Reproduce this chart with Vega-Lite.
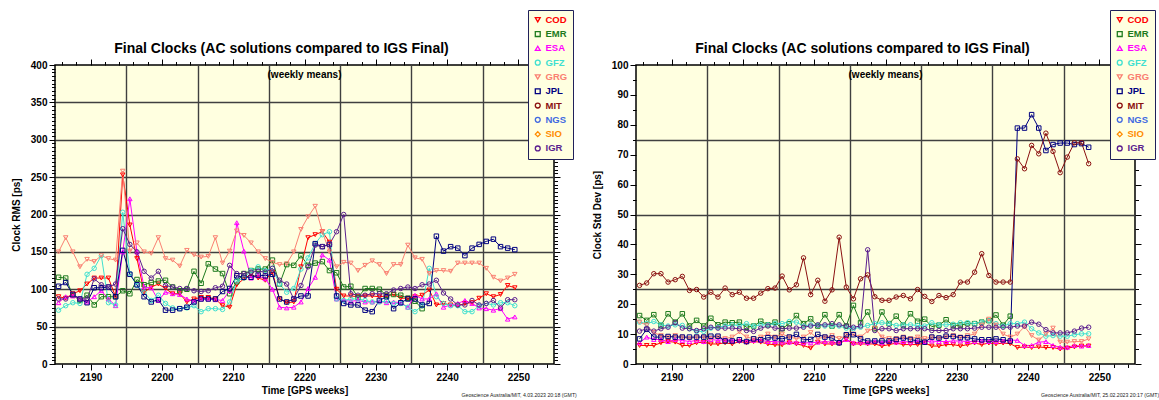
{
  "$schema": "https://vega.github.io/schema/vega-lite/v6.json",
  "background": "white",
  "padding": {"left": 10, "top": 8, "right": 2, "bottom": 2},
  "spacing": 13,
  "config": {
    "font": "Liberation Sans",
    "view": {"stroke": "black", "strokeWidth": 1.5, "fill": "#ffffe0"},
    "axis": {"labelFont": "Liberation Sans", "titleFont": "Liberation Sans"}
  },
  "resolve": {"scale": {"color": "independent", "shape": "independent"}},
  "datasets": {
    "rms": [
      {"w":2185.5,"COD":90,"EMR":116,"ESA":82,"GFZ":72,"GRG":150,"JPL":104,"IGR":87},
      {"w":2186.5,"COD":88,"EMR":115,"ESA":90,"GFZ":78,"GRG":169,"JPL":109,"IGR":87},
      {"w":2187.5,"COD":94,"EMR":92,"ESA":91,"GFZ":82,"GRG":150,"JPL":93,"IGR":93},
      {"w":2188.5,"COD":98,"EMR":85,"ESA":88,"GFZ":81,"GRG":130,"JPL":87,"IGR":87},
      {"w":2189.5,"COD":107,"EMR":92,"ESA":83,"GFZ":120,"GRG":140,"JPL":82,"IGR":87},
      {"w":2190.5,"COD":115,"EMR":79,"ESA":90,"GFZ":128,"GRG":137,"JPL":102,"IGR":114},
      {"w":2191.5,"COD":115,"EMR":90,"ESA":98,"GFZ":145,"GRG":145,"JPL":102,"IGR":106},
      {"w":2192.5,"COD":115,"EMR":90,"ESA":87,"GFZ":82,"GRG":141,"JPL":103,"IGR":103},
      {"w":2193.5,"COD":90,"EMR":90,"ESA":78,"GFZ":79,"GRG":139,"JPL":90,"IGR":107},
      {"w":2194.5,"COD":253,"EMR":98,"ESA":150,"GFZ":203,"GRG":258,"JPL":152,"IGR":181},
      {"w":2195.5,"COD":186,"EMR":94,"ESA":221,"GFZ":121,"GRG":151,"JPL":120,"IGR":160},
      {"w":2196.5,"COD":141,"EMR":113,"ESA":150,"GFZ":105,"GRG":162,"JPL":106,"IGR":150},
      {"w":2197.5,"COD":96,"EMR":106,"ESA":103,"GFZ":96,"GRG":150,"JPL":90,"IGR":124},
      {"w":2198.5,"COD":103,"EMR":109,"ESA":102,"GFZ":85,"GRG":148,"JPL":83,"IGR":115},
      {"w":2199.5,"COD":107,"EMR":111,"ESA":85,"GFZ":92,"GRG":169,"JPL":86,"IGR":124},
      {"w":2200.5,"COD":101,"EMR":112,"ESA":96,"GFZ":81,"GRG":141,"JPL":72,"IGR":105},
      {"w":2201.5,"COD":94,"EMR":103,"ESA":94,"GFZ":75,"GRG":139,"JPL":72,"IGR":103},
      {"w":2202.5,"COD":94,"EMR":98,"ESA":93,"GFZ":74,"GRG":131,"JPL":74,"IGR":101},
      {"w":2203.5,"COD":83,"EMR":100,"ESA":87,"GFZ":75,"GRG":152,"JPL":76,"IGR":101},
      {"w":2204.5,"COD":87,"EMR":124,"ESA":84,"GFZ":78,"GRG":146,"JPL":83,"IGR":98},
      {"w":2205.5,"COD":89,"EMR":108,"ESA":87,"GFZ":70,"GRG":143,"JPL":87,"IGR":97},
      {"w":2206.5,"COD":89,"EMR":134,"ESA":87,"GFZ":74,"GRG":144,"JPL":87,"IGR":98},
      {"w":2207.5,"COD":87,"EMR":127,"ESA":86,"GFZ":74,"GRG":169,"JPL":87,"IGR":102},
      {"w":2208.5,"COD":78,"EMR":121,"ESA":85,"GFZ":73,"GRG":135,"JPL":97,"IGR":104},
      {"w":2209.5,"COD":76,"EMR":94,"ESA":98,"GFZ":83,"GRG":151,"JPL":101,"IGR":132},
      {"w":2210.5,"COD":106,"EMR":110,"ESA":189,"GFZ":111,"GRG":178,"JPL":118,"IGR":121},
      {"w":2211.5,"COD":114,"EMR":121,"ESA":151,"GFZ":115,"GRG":172,"JPL":116,"IGR":121},
      {"w":2212.5,"COD":120,"EMR":125,"ESA":115,"GFZ":125,"GRG":162,"JPL":116,"IGR":123},
      {"w":2213.5,"COD":115,"EMR":127,"ESA":118,"GFZ":130,"GRG":150,"JPL":119,"IGR":124},
      {"w":2214.5,"COD":112,"EMR":127,"ESA":114,"GFZ":125,"GRG":141,"JPL":118,"IGR":123},
      {"w":2215.5,"COD":123,"EMR":139,"ESA":100,"GFZ":128,"GRG":136,"JPL":120,"IGR":128},
      {"w":2216.5,"COD":87,"EMR":107,"ESA":76,"GFZ":107,"GRG":133,"JPL":87,"IGR":112},
      {"w":2217.5,"COD":82,"EMR":133,"ESA":75,"GFZ":96,"GRG":134,"JPL":83,"IGR":107},
      {"w":2218.5,"COD":83,"EMR":132,"ESA":76,"GFZ":101,"GRG":150,"JPL":87,"IGR":87},
      {"w":2219.5,"COD":130,"EMR":145,"ESA":83,"GFZ":127,"GRG":180,"JPL":91,"IGR":105},
      {"w":2220.5,"COD":169,"EMR":132,"ESA":101,"GFZ":142,"GRG":197,"JPL":91,"IGR":130},
      {"w":2221.5,"COD":173,"EMR":135,"ESA":116,"GFZ":161,"GRG":211,"JPL":161,"IGR":159},
      {"w":2222.5,"COD":177,"EMR":137,"ESA":146,"GFZ":173,"GRG":177,"JPL":157,"IGR":157},
      {"w":2223.5,"COD":163,"EMR":125,"ESA":139,"GFZ":177,"GRG":150,"JPL":160,"IGR":160},
      {"w":2224.5,"COD":100,"EMR":122,"ESA":87,"GFZ":87,"GRG":130,"JPL":91,"IGR":177},
      {"w":2225.5,"COD":91,"EMR":103,"ESA":85,"GFZ":85,"GRG":136,"JPL":81,"IGR":200},
      {"w":2226.5,"COD":91,"EMR":104,"ESA":84,"GFZ":87,"GRG":135,"JPL":79,"IGR":94},
      {"w":2227.5,"COD":90,"EMR":89,"ESA":85,"GFZ":87,"GRG":125,"JPL":79,"IGR":92},
      {"w":2228.5,"COD":91,"EMR":101,"ESA":83,"GFZ":85,"GRG":132,"JPL":72,"IGR":92},
      {"w":2229.5,"COD":91,"EMR":101,"ESA":83,"GFZ":83,"GRG":138,"JPL":70,"IGR":94},
      {"w":2230.5,"COD":90,"EMR":100,"ESA":84,"GFZ":83,"GRG":133,"JPL":85,"IGR":94},
      {"w":2231.5,"COD":91,"EMR":92,"ESA":82,"GFZ":84,"GRG":121,"JPL":90,"IGR":94},
      {"w":2232.5,"COD":93,"EMR":93,"ESA":83,"GFZ":81,"GRG":133,"JPL":74,"IGR":99},
      {"w":2233.5,"COD":88,"EMR":92,"ESA":82,"GFZ":81,"GRG":133,"JPL":82,"IGR":101},
      {"w":2234.5,"COD":88,"EMR":88,"ESA":76,"GFZ":76,"GRG":159,"JPL":87,"IGR":103},
      {"w":2235.5,"COD":90,"EMR":84,"ESA":92,"GFZ":70,"GRG":142,"JPL":87,"IGR":101},
      {"w":2236.5,"COD":92,"EMR":74,"ESA":87,"GFZ":78,"GRG":140,"JPL":79,"IGR":106},
      {"w":2237.5,"COD":99,"ESA":87,"GFZ":128,"GRG":121,"JPL":81,"IGR":107},
      {"w":2238.5,"COD":79,"ESA":94,"GFZ":90,"GRG":125,"JPL":171,"IGR":112},
      {"w":2239.5,"COD":81,"ESA":76,"GFZ":81,"GRG":125,"JPL":151,"IGR":95},
      {"w":2240.5,"COD":79,"ESA":79,"GFZ":78,"GRG":124,"JPL":157,"IGR":87},
      {"w":2241.5,"COD":78,"ESA":81,"GFZ":78,"GRG":135,"JPL":155,"IGR":79},
      {"w":2242.5,"COD":81,"ESA":85,"GFZ":70,"GRG":135,"JPL":145,"IGR":79},
      {"w":2243.5,"COD":82,"ESA":81,"GFZ":70,"GRG":135,"JPL":155,"IGR":85},
      {"w":2244.5,"COD":88,"ESA":75,"GFZ":78,"GRG":135,"JPL":160,"IGR":79},
      {"w":2245.5,"COD":94,"ESA":74,"GFZ":81,"GRG":128,"JPL":164,"IGR":81},
      {"w":2246.5,"COD":90,"ESA":72,"GFZ":79,"GRG":116,"JPL":167,"IGR":85},
      {"w":2247.5,"COD":93,"ESA":74,"GFZ":82,"GRG":111,"JPL":157,"IGR":75},
      {"w":2248.5,"COD":105,"ESA":60,"GFZ":82,"GRG":115,"JPL":155,"IGR":86},
      {"w":2249.5,"COD":102,"ESA":63,"GFZ":78,"GRG":120,"JPL":153,"IGR":86}
    ],
    "std": [
      {"w":2185.5,"COD":6.2,"EMR":16.2,"ESA":7.1,"GFZ":14.0,"GRG":14,"JPL":8.4,"MIT":26.3,"IGR":11.0},
      {"w":2186.5,"COD":6.2,"EMR":14.6,"ESA":9.0,"GFZ":13.5,"GRG":13,"JPL":11.6,"MIT":27.1,"IGR":11.8},
      {"w":2187.5,"COD":6.2,"EMR":16.5,"ESA":8.2,"GFZ":14.2,"GRG":10.5,"JPL":9.0,"MIT":30.2,"IGR":11.0},
      {"w":2188.5,"COD":7.1,"EMR":12.9,"ESA":8.2,"GFZ":13.1,"GRG":9.5,"JPL":9.0,"MIT":30.2,"IGR":11.8},
      {"w":2189.5,"COD":7.5,"EMR":16.8,"ESA":7.5,"GFZ":12.7,"GRG":9,"JPL":9.2,"MIT":27.4,"IGR":12.3},
      {"w":2190.5,"COD":7.3,"EMR":14.0,"ESA":8.2,"GFZ":13.1,"GRG":9.5,"JPL":9.0,"MIT":28.2,"IGR":13.8},
      {"w":2191.5,"COD":6.2,"EMR":16.8,"ESA":7.9,"GFZ":12.9,"GRG":9,"JPL":9.0,"MIT":29.3,"IGR":12.0},
      {"w":2192.5,"COD":6.2,"EMR":12.7,"ESA":7.5,"GFZ":11.8,"GRG":8.5,"JPL":9.0,"MIT":24.6,"IGR":11.8},
      {"w":2193.5,"COD":7.1,"EMR":14.6,"ESA":7.9,"GFZ":10.9,"GRG":9,"JPL":9.0,"MIT":24.9,"IGR":11.2},
      {"w":2194.5,"COD":7.3,"EMR":12.7,"ESA":7.5,"GFZ":10.9,"GRG":9,"JPL":9.0,"MIT":22.4,"IGR":11.8},
      {"w":2195.5,"COD":6.7,"EMR":15.3,"ESA":8.2,"GFZ":12.0,"GRG":8.5,"JPL":9.3,"MIT":24.0,"IGR":12.3},
      {"w":2196.5,"COD":6.7,"EMR":13.1,"ESA":7.9,"GFZ":12.3,"GRG":9,"JPL":9.3,"MIT":22.4,"IGR":12.0},
      {"w":2197.5,"COD":7.1,"EMR":14.0,"ESA":8.2,"GFZ":12.7,"GRG":8.5,"JPL":7.7,"MIT":25.4,"IGR":12.0},
      {"w":2198.5,"COD":6.7,"EMR":13.8,"ESA":7.9,"GFZ":13.1,"GRG":9,"JPL":7.7,"MIT":23.2,"IGR":12.0},
      {"w":2199.5,"COD":7.5,"EMR":14.0,"ESA":7.9,"GFZ":12.9,"GRG":10.7,"JPL":8.1,"MIT":24.0,"IGR":11.8},
      {"w":2200.5,"COD":7.1,"EMR":12.3,"ESA":7.5,"GFZ":13.5,"GRG":9,"JPL":7.5,"MIT":22.0,"IGR":11.2},
      {"w":2201.5,"COD":7.5,"EMR":12.7,"ESA":7.9,"GFZ":12.7,"GRG":8.5,"JPL":8.4,"MIT":22.0,"IGR":10.9},
      {"w":2202.5,"COD":7.3,"EMR":14.3,"ESA":7.9,"GFZ":13.1,"GRG":9,"JPL":8.1,"MIT":23.7,"IGR":12.0},
      {"w":2203.5,"COD":6.7,"EMR":13.1,"ESA":7.5,"GFZ":13.1,"GRG":10,"JPL":8.8,"MIT":25.2,"IGR":12.7},
      {"w":2204.5,"COD":6.4,"EMR":14.0,"ESA":7.5,"GFZ":13.5,"GRG":9,"JPL":8.7,"MIT":25.4,"IGR":12.0},
      {"w":2205.5,"COD":6.4,"EMR":11.8,"ESA":7.3,"GFZ":13.5,"GRG":10,"JPL":8.4,"MIT":29.4,"IGR":11.8},
      {"w":2206.5,"COD":7.1,"EMR":13.5,"ESA":7.3,"GFZ":14.2,"GRG":9,"JPL":9.0,"MIT":24.8,"IGR":12.0},
      {"w":2207.5,"COD":6.7,"EMR":16.2,"ESA":7.3,"GFZ":14.0,"GRG":8.5,"JPL":9.9,"MIT":26.5,"IGR":12.0},
      {"w":2208.5,"COD":6.2,"EMR":13.5,"ESA":7.1,"GFZ":12.7,"GRG":9,"JPL":8.1,"MIT":35.5,"IGR":12.3},
      {"w":2209.5,"COD":5.3,"EMR":15.1,"ESA":7.1,"GFZ":13.1,"GRG":10.5,"JPL":8.2,"MIT":23.2,"IGR":12.7},
      {"w":2210.5,"COD":7.3,"EMR":12.7,"ESA":7.3,"GFZ":12.9,"GRG":8.5,"JPL":9.9,"MIT":28.0,"IGR":13.1},
      {"w":2211.5,"COD":6.7,"EMR":16.5,"ESA":7.5,"GFZ":12.7,"GRG":9,"JPL":9.0,"MIT":21.0,"IGR":13.1},
      {"w":2212.5,"COD":6.7,"EMR":12.7,"ESA":7.3,"GFZ":12.7,"GRG":9.5,"JPL":8.7,"MIT":24.8,"IGR":13.5},
      {"w":2213.5,"COD":6.7,"EMR":16.5,"ESA":7.1,"GFZ":12.7,"GRG":8.5,"JPL":7.1,"MIT":42.4,"IGR":13.1},
      {"w":2214.5,"COD":8.2,"EMR":12.7,"ESA":8.2,"GFZ":12.0,"GRG":9.5,"JPL":9.8,"MIT":25.7,"IGR":12.7},
      {"w":2215.5,"COD":6.7,"EMR":19.6,"ESA":7.1,"GFZ":11.8,"GRG":10,"JPL":9.8,"MIT":21.8,"IGR":12.3},
      {"w":2216.5,"COD":6.7,"EMR":13.8,"ESA":7.3,"GFZ":12.3,"GRG":9,"JPL":8.4,"MIT":28.5,"IGR":12.7},
      {"w":2217.5,"COD":6.7,"EMR":17.4,"ESA":7.1,"GFZ":12.9,"GRG":11,"JPL":7.7,"MIT":29.8,"IGR":38.2},
      {"w":2218.5,"COD":6.7,"EMR":11.8,"ESA":7.5,"GFZ":13.5,"GRG":12,"JPL":7.7,"MIT":22.5,"IGR":11.2},
      {"w":2219.5,"COD":6.0,"EMR":17.4,"ESA":7.1,"GFZ":13.8,"GRG":9,"JPL":7.7,"MIT":21.3,"IGR":11.8},
      {"w":2220.5,"COD":6.5,"EMR":13.5,"ESA":7.5,"GFZ":13.5,"GRG":8.5,"JPL":7.7,"MIT":21.3,"IGR":11.8},
      {"w":2221.5,"COD":7.0,"EMR":16.0,"ESA":7.3,"GFZ":12.9,"GRG":8.5,"JPL":8.2,"MIT":22.4,"IGR":11.2},
      {"w":2222.5,"COD":6.5,"EMR":13.0,"ESA":7.5,"GFZ":13.1,"GRG":9,"JPL":8.7,"MIT":22.9,"IGR":11.8},
      {"w":2223.5,"COD":6.5,"EMR":16.8,"ESA":7.3,"GFZ":13.1,"GRG":8.5,"JPL":8.2,"MIT":21.8,"IGR":11.8},
      {"w":2224.5,"COD":6.5,"EMR":14.3,"ESA":7.5,"GFZ":12.9,"GRG":9,"JPL":7.7,"MIT":24.9,"IGR":11.8},
      {"w":2225.5,"COD":7.0,"EMR":15.0,"ESA":7.5,"GFZ":12.7,"GRG":8.5,"JPL":7.3,"MIT":22.6,"IGR":11.8},
      {"w":2226.5,"COD":6.0,"EMR":12.5,"ESA":7.7,"GFZ":13.8,"GRG":9,"JPL":9.0,"MIT":20.9,"IGR":11.2},
      {"w":2227.5,"COD":6.0,"EMR":13.0,"ESA":7.5,"GFZ":13.1,"GRG":8.5,"JPL":8.7,"MIT":22.9,"IGR":11.2},
      {"w":2228.5,"COD":6.5,"EMR":14.8,"ESA":7.5,"GFZ":13.1,"GRG":9,"JPL":9.3,"MIT":22.2,"IGR":11.2},
      {"w":2229.5,"COD":6.5,"EMR":12.9,"ESA":7.7,"GFZ":13.3,"GRG":9.5,"JPL":9.2,"MIT":23.2,"IGR":11.8},
      {"w":2230.5,"COD":6.0,"EMR":13.0,"ESA":7.7,"GFZ":13.8,"GRG":9,"JPL":8.8,"MIT":27.4,"IGR":11.8},
      {"w":2231.5,"COD":6.5,"EMR":13.5,"ESA":7.5,"GFZ":13.8,"GRG":9.5,"JPL":8.8,"MIT":27.4,"IGR":11.8},
      {"w":2232.5,"COD":7.0,"EMR":13.5,"ESA":7.5,"GFZ":13.5,"GRG":10,"JPL":8.4,"MIT":30.7,"IGR":12.0},
      {"w":2233.5,"COD":6.5,"EMR":14.0,"ESA":7.7,"GFZ":14.0,"GRG":13,"JPL":8.1,"MIT":36.9,"IGR":12.3},
      {"w":2234.5,"COD":7.0,"EMR":14.5,"ESA":7.5,"GFZ":14.5,"GRG":15,"JPL":8.1,"MIT":29.6,"IGR":12.3},
      {"w":2235.5,"COD":6.7,"EMR":16.4,"ESA":7.5,"GFZ":13.5,"GRG":13,"JPL":8.4,"MIT":27.4,"IGR":12.3},
      {"w":2236.5,"COD":7.0,"EMR":13.0,"ESA":7.7,"GFZ":12.7,"GRG":10,"JPL":8.1,"MIT":27.4,"IGR":12.3},
      {"w":2237.5,"COD":6.8,"EMR":16.0,"ESA":8.0,"GFZ":13.5,"GRG":9,"JPL":7.7,"MIT":27.4,"IGR":12.3},
      {"w":2238.5,"COD":5.5,"ESA":7.9,"GFZ":13.5,"GRG":10,"JPL":78.9,"MIT":68.6,"IGR":12.7},
      {"w":2239.5,"COD":5.7,"ESA":6.2,"GFZ":14.0,"GRG":12.5,"JPL":78.9,"MIT":65.3,"IGR":12.7},
      {"w":2240.5,"COD":5.5,"ESA":6.2,"GFZ":11.8,"GRG":9.5,"JPL":83.4,"MIT":73.1,"IGR":14.0},
      {"w":2241.5,"COD":5.7,"ESA":7.3,"GFZ":10.4,"GRG":8,"JPL":78.9,"MIT":70.3,"IGR":13.3},
      {"w":2242.5,"COD":5.5,"ESA":7.5,"GFZ":9.3,"GRG":10,"JPL":71.4,"MIT":77.2,"IGR":11.5},
      {"w":2243.5,"COD":5.5,"ESA":6.2,"GFZ":9.5,"GRG":12,"JPL":73.4,"MIT":71.1,"IGR":10.4},
      {"w":2244.5,"COD":5.0,"ESA":5.6,"GFZ":9.3,"GRG":7.3,"JPL":73.9,"MIT":64.0,"IGR":10.4},
      {"w":2245.5,"COD":5.3,"ESA":5.6,"GFZ":9.3,"GRG":7.3,"JPL":73.9,"MIT":69.2,"IGR":10.4},
      {"w":2246.5,"COD":5.7,"ESA":6.2,"GFZ":9.8,"GRG":7.5,"JPL":73.4,"MIT":74.0,"IGR":11.0},
      {"w":2247.5,"COD":6.0,"ESA":6.0,"GFZ":10.1,"GRG":7.5,"JPL":73.7,"MIT":74.0,"IGR":12.0},
      {"w":2248.5,"COD":6.0,"ESA":6.2,"GFZ":10.1,"GRG":8.4,"JPL":72.5,"MIT":67.0,"IGR":12.3}
    ]
  },
  "hconcat": [
    {
      "width": 499,
      "height": 299,
      "title": {"text": "Final Clocks (AC solutions compared to IGS Final)", "fontSize": 14, "fontWeight": "bold", "color": "black", "anchor": "middle", "dx": -23, "offset": -60, "baseline": "bottom"},
      "data": {"name": "rms"},
      "transform": [
        {"fold": ["COD","EMR","ESA","GFZ","GRG","JPL","MIT","NGS","SIO","IGR"], "as": ["ac","v"]},
        {"filter": "isValid(datum.v)"}
      ],
      "resolve": {"axis": {"x": "independent", "y": "independent"}},
      "layer": [
        {
          "mark": {"type": "line", "strokeWidth": 1},
          "encoding": {
            "x": {"field": "w", "type": "quantitative", "scale": {"domain": [2185, 2255], "nice": false, "zero": false},
              "axis": {"orient": "bottom", "values": [2186,2188,2190,2192,2194,2196,2198,2200,2202,2204,2206,2208,2210,2212,2214,2216,2218,2220,2222,2224,2226,2228,2230,2232,2234,2236,2238,2240,2242,2244,2246,2248,2250,2252,2254], "format": "d", "labelExpr": "datum.value % 10 === 0 ? datum.label : ''", "tickSize": {"condition": {"test": "datum.value % 10 === 0", "value": 6}, "value": 3.5}, "tickColor": "black", "tickWidth": 1, "labelFontSize": 10, "labelFontWeight": "bold", "labelColor": "black", "labelPadding": 2, "labelFlush": false, "labelOverlap": false, "domain": false, "grid": false, "title": "Time [GPS weeks]", "titleFontSize": 10, "titleFontWeight": "bold", "titleColor": "black", "titlePadding": 3}},
            "y": {"field": "v", "type": "quantitative", "scale": {"domain": [0, 400], "nice": false, "zero": false},
              "axis": {"orient": "left", "values": [0,5,10,15,20,25,30,35,40,45,50,55,60,65,70,75,80,85,90,95,100,105,110,115,120,125,130,135,140,145,150,155,160,165,170,175,180,185,190,195,200,205,210,215,220,225,230,235,240,245,250,255,260,265,270,275,280,285,290,295,300,305,310,315,320,325,330,335,340,345,350,355,360,365,370,375,380,385,390,395,400], "format": "d", "labelExpr": "datum.value % 50 === 0 ? datum.label : ''", "tickSize": {"condition": {"test": "datum.value % 50 === 0", "value": 6}, "value": 3.5}, "tickColor": "black", "tickWidth": 1, "labelFontSize": 10, "labelFontWeight": "bold", "labelColor": "black", "labelPadding": 2, "labelFlush": false, "labelOverlap": false, "domain": false, "grid": false, "title": "Clock RMS [ps]", "titleFontSize": 10, "titleFontWeight": "bold", "titleColor": "black", "titlePadding": 9}},
            "stroke": {"field": "ac", "type": "nominal", "scale": {"domain": ["COD","EMR","ESA","GFZ","GRG","JPL","MIT","NGS","SIO","IGR"], "range": ["#ff0000","#1e7b1e","#ff00ff","#40e0d0","#fa8072","#000080","#8b1010","#4169e1","#ff8c00","#5b1f8f"]}, "legend": null}
          }
        },
        {
          "mark": {"type": "point", "filled": false, "size": 20, "strokeWidth": 1, "opacity": 1},
          "encoding": {
            "x": {"field": "w", "type": "quantitative", "scale": {"domain": [2185, 2255], "nice": false, "zero": false},
              "axis": {"orient": "bottom", "values": [2195,2205,2215,2225,2235,2245], "grid": true, "gridColor": "#404040", "gridWidth": 1.4, "gridOpacity": 1, "ticks": false, "labels": false, "domain": false, "title": null, "zindex": 0}},
            "y": {"field": "v", "type": "quantitative", "scale": {"domain": [0, 400], "nice": false, "zero": false},
              "axis": {"orient": "left", "values": [50,100,150,200,250,300,350], "grid": true, "gridColor": "#404040", "gridWidth": 1.4, "gridOpacity": 1, "ticks": false, "labels": false, "domain": false, "title": null, "zindex": 0}},
            "color": {"field": "ac", "type": "nominal", "scale": {"domain": ["COD","EMR","ESA","GFZ","GRG","JPL","MIT","NGS","SIO","IGR"], "range": ["#ff0000","#1e7b1e","#ff00ff","#40e0d0","#fa8072","#000080","#8b1010","#4169e1","#ff8c00","#5b1f8f"]},
              "legend": {"orient": "none", "legendX": 473, "legendY": -55, "title": null, "padding": 5, "rowPadding": 3.3, "symbolSize": 24, "symbolStrokeWidth": 1.3, "labelFontSize": 9.5, "labelFontWeight": "bold", "labelFont": "Liberation Sans", "labelOffset": 3, "fillColor": "#ffffe0", "strokeColor": "#20205a",
                "labelColor": {"expr": "datum.value === 'COD' ? '#ff0000' : datum.value === 'EMR' ? '#1e7b1e' : datum.value === 'ESA' ? '#ff00ff' : datum.value === 'GFZ' ? '#40e0d0' : datum.value === 'GRG' ? '#fa8072' : datum.value === 'JPL' ? '#000080' : datum.value === 'MIT' ? '#8b1010' : datum.value === 'NGS' ? '#4169e1' : datum.value === 'SIO' ? '#ff8c00' : '#5b1f8f'"}}},
            "shape": {"field": "ac", "type": "nominal", "scale": {"domain": ["COD","EMR","ESA","GFZ","GRG","JPL","MIT","NGS","SIO","IGR"], "range": ["triangle-down","square","triangle-up","circle","triangle-down","square","circle","circle","diamond","circle"]},
              "legend": {"orient": "none", "legendX": 473, "legendY": -55, "title": null, "padding": 5, "rowPadding": 3.3, "symbolSize": 24, "symbolStrokeWidth": 1.3, "labelFontSize": 9.5, "labelFontWeight": "bold", "labelFont": "Liberation Sans", "labelOffset": 3, "fillColor": "#ffffe0", "strokeColor": "#20205a",
                "labelColor": {"expr": "datum.value === 'COD' ? '#ff0000' : datum.value === 'EMR' ? '#1e7b1e' : datum.value === 'ESA' ? '#ff00ff' : datum.value === 'GFZ' ? '#40e0d0' : datum.value === 'GRG' ? '#fa8072' : datum.value === 'JPL' ? '#000080' : datum.value === 'MIT' ? '#8b1010' : datum.value === 'NGS' ? '#4169e1' : datum.value === 'SIO' ? '#ff8c00' : '#5b1f8f'"}}}
          }
        },
        {
          "data": {"values": [{"note": "(weekly means)"}]},
          "mark": {"type": "text", "fontSize": 10, "fontWeight": "bold", "color": "black", "baseline": "middle", "align": "center"},
          "encoding": {
            "x": {"datum": 2220, "type": "quantitative", "scale": {"domain": [2185, 2255], "nice": false, "zero": false},
              "axis": {"orient": "top", "values": [2186,2188,2190,2192,2194,2196,2198,2200,2202,2204,2206,2208,2210,2212,2214,2216,2218,2220,2222,2224,2226,2228,2230,2232,2234,2236,2238,2240,2242,2244,2246,2248,2250,2252,2254], "tickSize": {"condition": {"test": "datum.value % 10 === 0", "value": 6}, "value": 3.5}, "tickColor": "black", "tickWidth": 1, "labels": false, "domain": false, "grid": false, "title": null}},
            "y": {"datum": 386.7, "type": "quantitative", "scale": {"domain": [0, 400], "nice": false, "zero": false},
              "axis": {"orient": "right", "values": [0,5,10,15,20,25,30,35,40,45,50,55,60,65,70,75,80,85,90,95,100,105,110,115,120,125,130,135,140,145,150,155,160,165,170,175,180,185,190,195,200,205,210,215,220,225,230,235,240,245,250,255,260,265,270,275,280,285,290,295,300,305,310,315,320,325,330,335,340,345,350,355,360,365,370,375,380,385,390,395,400], "tickSize": {"condition": {"test": "datum.value % 50 === 0", "value": 6}, "value": 3.5}, "tickColor": "black", "tickWidth": 1, "labels": false, "domain": false, "grid": false, "title": null}},
            "text": {"field": "note"}
          }
        },
        {
          "data": {"values": [{"note": "Geoscience Australia/MIT, 4.03.2023 20:18 (GMT)"}]},
          "mark": {"type": "text", "fontSize": 5.2, "color": "#222222", "baseline": "middle", "align": "right"},
          "encoding": {
            "x": {"datum": 2258.2, "type": "quantitative", "scale": {"domain": [2185, 2255], "nice": false, "zero": false}, "axis": null},
            "y": {"datum": -41.5, "type": "quantitative", "scale": {"domain": [0, 400], "nice": false, "zero": false}, "axis": null},
            "text": {"field": "note"}
          }
        }
      ]
    },
    {
      "width": 499,
      "height": 299,
      "title": {"text": "Final Clocks (AC solutions compared to IGS Final)", "fontSize": 14, "fontWeight": "bold", "color": "black", "anchor": "middle", "dx": -23, "offset": -60, "baseline": "bottom"},
      "data": {"name": "std"},
      "transform": [
        {"fold": ["COD","EMR","ESA","GFZ","GRG","JPL","MIT","NGS","SIO","IGR"], "as": ["ac","v"]},
        {"filter": "isValid(datum.v)"}
      ],
      "resolve": {"axis": {"x": "independent", "y": "independent"}},
      "layer": [
        {
          "mark": {"type": "line", "strokeWidth": 1},
          "encoding": {
            "x": {"field": "w", "type": "quantitative", "scale": {"domain": [2185, 2255], "nice": false, "zero": false},
              "axis": {"orient": "bottom", "values": [2186,2188,2190,2192,2194,2196,2198,2200,2202,2204,2206,2208,2210,2212,2214,2216,2218,2220,2222,2224,2226,2228,2230,2232,2234,2236,2238,2240,2242,2244,2246,2248,2250,2252,2254], "format": "d", "labelExpr": "datum.value % 10 === 0 ? datum.label : ''", "tickSize": {"condition": {"test": "datum.value % 10 === 0", "value": 6}, "value": 3.5}, "tickColor": "black", "tickWidth": 1, "labelFontSize": 10, "labelFontWeight": "bold", "labelColor": "black", "labelPadding": 2, "labelFlush": false, "labelOverlap": false, "domain": false, "grid": false, "title": "Time [GPS weeks]", "titleFontSize": 10, "titleFontWeight": "bold", "titleColor": "black", "titlePadding": 3}},
            "y": {"field": "v", "type": "quantitative", "scale": {"domain": [0, 100], "nice": false, "zero": false},
              "axis": {"orient": "left", "values": [0,5,10,15,20,25,30,35,40,45,50,55,60,65,70,75,80,85,90,95,100], "format": "d", "labelExpr": "datum.value % 10 === 0 ? datum.label : ''", "tickSize": {"condition": {"test": "datum.value % 10 === 0", "value": 6}, "value": 3.5}, "tickColor": "black", "tickWidth": 1, "labelFontSize": 10, "labelFontWeight": "bold", "labelColor": "black", "labelPadding": 2, "labelFlush": false, "labelOverlap": false, "domain": false, "grid": false, "title": "Clock Std Dev [ps]", "titleFontSize": 10, "titleFontWeight": "bold", "titleColor": "black", "titlePadding": 9}},
            "stroke": {"field": "ac", "type": "nominal", "scale": {"domain": ["COD","EMR","ESA","GFZ","GRG","JPL","MIT","NGS","SIO","IGR"], "range": ["#ff0000","#1e7b1e","#ff00ff","#40e0d0","#fa8072","#000080","#8b1010","#4169e1","#ff8c00","#5b1f8f"]}, "legend": null}
          }
        },
        {
          "mark": {"type": "point", "filled": false, "size": 20, "strokeWidth": 1, "opacity": 1},
          "encoding": {
            "x": {"field": "w", "type": "quantitative", "scale": {"domain": [2185, 2255], "nice": false, "zero": false},
              "axis": {"orient": "bottom", "values": [2195,2205,2215,2225,2235,2245], "grid": true, "gridColor": "#404040", "gridWidth": 1.4, "gridOpacity": 1, "ticks": false, "labels": false, "domain": false, "title": null, "zindex": 0}},
            "y": {"field": "v", "type": "quantitative", "scale": {"domain": [0, 100], "nice": false, "zero": false},
              "axis": {"orient": "left", "values": [25,50,75], "grid": true, "gridColor": "#404040", "gridWidth": 1.4, "gridOpacity": 1, "ticks": false, "labels": false, "domain": false, "title": null, "zindex": 0}},
            "color": {"field": "ac", "type": "nominal", "scale": {"domain": ["COD","EMR","ESA","GFZ","GRG","JPL","MIT","NGS","SIO","IGR"], "range": ["#ff0000","#1e7b1e","#ff00ff","#40e0d0","#fa8072","#000080","#8b1010","#4169e1","#ff8c00","#5b1f8f"]},
              "legend": {"orient": "none", "legendX": 474, "legendY": -55, "title": null, "padding": 5, "rowPadding": 3.3, "symbolSize": 24, "symbolStrokeWidth": 1.3, "labelFontSize": 9.5, "labelFontWeight": "bold", "labelFont": "Liberation Sans", "labelOffset": 3, "fillColor": "#ffffe0", "strokeColor": "#20205a",
                "labelColor": {"expr": "datum.value === 'COD' ? '#ff0000' : datum.value === 'EMR' ? '#1e7b1e' : datum.value === 'ESA' ? '#ff00ff' : datum.value === 'GFZ' ? '#40e0d0' : datum.value === 'GRG' ? '#fa8072' : datum.value === 'JPL' ? '#000080' : datum.value === 'MIT' ? '#8b1010' : datum.value === 'NGS' ? '#4169e1' : datum.value === 'SIO' ? '#ff8c00' : '#5b1f8f'"}}},
            "shape": {"field": "ac", "type": "nominal", "scale": {"domain": ["COD","EMR","ESA","GFZ","GRG","JPL","MIT","NGS","SIO","IGR"], "range": ["triangle-down","square","triangle-up","circle","triangle-down","square","circle","circle","diamond","circle"]},
              "legend": {"orient": "none", "legendX": 474, "legendY": -55, "title": null, "padding": 5, "rowPadding": 3.3, "symbolSize": 24, "symbolStrokeWidth": 1.3, "labelFontSize": 9.5, "labelFontWeight": "bold", "labelFont": "Liberation Sans", "labelOffset": 3, "fillColor": "#ffffe0", "strokeColor": "#20205a",
                "labelColor": {"expr": "datum.value === 'COD' ? '#ff0000' : datum.value === 'EMR' ? '#1e7b1e' : datum.value === 'ESA' ? '#ff00ff' : datum.value === 'GFZ' ? '#40e0d0' : datum.value === 'GRG' ? '#fa8072' : datum.value === 'JPL' ? '#000080' : datum.value === 'MIT' ? '#8b1010' : datum.value === 'NGS' ? '#4169e1' : datum.value === 'SIO' ? '#ff8c00' : '#5b1f8f'"}}}
          }
        },
        {
          "data": {"values": [{"note": "(weekly means)"}]},
          "mark": {"type": "text", "fontSize": 10, "fontWeight": "bold", "color": "black", "baseline": "middle", "align": "center"},
          "encoding": {
            "x": {"datum": 2220, "type": "quantitative", "scale": {"domain": [2185, 2255], "nice": false, "zero": false},
              "axis": {"orient": "top", "values": [2186,2188,2190,2192,2194,2196,2198,2200,2202,2204,2206,2208,2210,2212,2214,2216,2218,2220,2222,2224,2226,2228,2230,2232,2234,2236,2238,2240,2242,2244,2246,2248,2250,2252,2254], "tickSize": {"condition": {"test": "datum.value % 10 === 0", "value": 6}, "value": 3.5}, "tickColor": "black", "tickWidth": 1, "labels": false, "domain": false, "grid": false, "title": null}},
            "y": {"datum": 96.7, "type": "quantitative", "scale": {"domain": [0, 100], "nice": false, "zero": false},
              "axis": {"orient": "right", "values": [0,5,10,15,20,25,30,35,40,45,50,55,60,65,70,75,80,85,90,95,100], "tickSize": {"condition": {"test": "datum.value % 10 === 0", "value": 6}, "value": 3.5}, "tickColor": "black", "tickWidth": 1, "labels": false, "domain": false, "grid": false, "title": null}},
            "text": {"field": "note"}
          }
        },
        {
          "data": {"values": [{"note": "Geoscience Australia/MIT, 25.02.2023 20:17 (GMT)"}]},
          "mark": {"type": "text", "fontSize": 5.2, "color": "#222222", "baseline": "middle", "align": "right"},
          "encoding": {
            "x": {"datum": 2258.4, "type": "quantitative", "scale": {"domain": [2185, 2255], "nice": false, "zero": false}, "axis": null},
            "y": {"datum": -10.4, "type": "quantitative", "scale": {"domain": [0, 100], "nice": false, "zero": false}, "axis": null},
            "text": {"field": "note"}
          }
        }
      ]
    }
  ]
}
